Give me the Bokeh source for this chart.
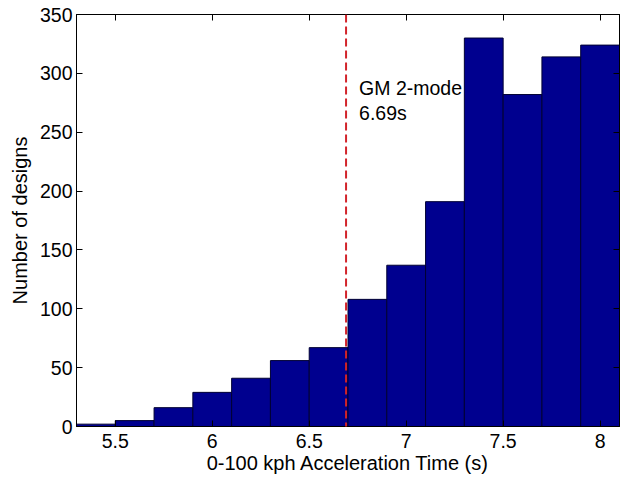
from bokeh.plotting import figure
from bokeh.models import FixedTicker, LinearAxis, Label, Arrow, Range1d
from bokeh.embed import file_html
from bokeh.resources import INLINE

# ---- data ----
bin_edges = [5.3, 5.5, 5.7, 5.9, 6.1, 6.3, 6.5, 6.7, 6.9, 7.1, 7.3, 7.5, 7.7, 7.9, 8.1]
counts = [2, 5, 16, 29, 41, 56, 67, 108, 137, 191, 330, 282, 314, 324]
x_ticks = [5.5, 6.0, 6.5, 7.0, 7.5, 8.0]
x_tick_labels = ["5.5", "6", "6.5", "7", "7.5", "8"]
y_ticks = [0, 50, 100, 150, 200, 250, 300, 350]
gm_time = 6.69
gm_label = "GM 2-mode\n6.69s"
label_y = 297
line_top = 350
line_bottom = -14

FONT = "Liberation Sans"
FS = "19.5px"
FS_AX = "20px"

p = figure(width=625, height=478, output_backend="svg", toolbar_location=None,
           x_range=Range1d(5.3, 8.1), y_range=Range1d(0, 350),
           min_border_left=76, min_border_right=6, min_border_top=14, min_border_bottom=52)
p.background_fill_color = "white"
p.border_fill_color = "white"
p.outline_line_color = "black"
p.outline_line_width = 1
p.xgrid.visible = False
p.ygrid.visible = False

p.quad(left=bin_edges[:-1], right=bin_edges[1:], top=counts, bottom=0,
       fill_color="#00008F", line_color="#000033", line_width=1)

arrow = Arrow(x_start=gm_time, y_start=line_top, x_end=gm_time, y_end=line_bottom,
              end=None, line_color="#D2232A", line_width=2, line_dash="8 4")
p.add_layout(arrow)

lab = Label(x=gm_time, y=label_y, x_offset=13, text=gm_label, text_font=FONT,
            text_font_size="19.5px", text_color="black", text_baseline="top",
            text_align="left", text_line_height=1.13)
p.add_layout(lab)

xa = p.xaxis[0]
xa.ticker = FixedTicker(ticks=x_ticks)
xa.major_label_overrides = {t: l for t, l in zip(x_ticks, x_tick_labels)}
ya = p.yaxis[0]
ya.ticker = FixedTicker(ticks=y_ticks)

for ax in (xa, ya):
    ax.axis_line_color = "black"
    ax.major_tick_line_color = "black"
    ax.major_tick_in = 6
    ax.major_tick_out = 0
    ax.minor_tick_line_color = None
    ax.major_label_text_font = FONT
    ax.major_label_text_font_size = FS
    ax.major_label_text_color = "black"
    ax.axis_label_text_font = FONT
    ax.axis_label_text_font_size = FS_AX
    ax.axis_label_text_font_style = "normal"
    ax.axis_label_text_color = "black"

xa.axis_label = "0-100 kph Acceleration Time (s)"
xa.major_label_standoff = 7
xa.axis_label_standoff = 1
ya.axis_label = "Number of designs"
ya.major_label_standoff = 4
ya.axis_label_standoff = 6

top_ax = LinearAxis(ticker=FixedTicker(ticks=x_ticks))
right_ax = LinearAxis(ticker=FixedTicker(ticks=y_ticks))
for ax in (top_ax, right_ax):
    ax.major_label_text_font_size = "1px"
    ax.major_label_text_color = None
    ax.major_label_standoff = 0
    ax.major_tick_in = 6
    ax.major_tick_out = 0
    ax.minor_tick_line_color = None
    ax.axis_line_color = "black"
    ax.major_tick_line_color = "black"
p.add_layout(top_ax, "above")
p.add_layout(right_ax, "right")

open("out.html", "w").write(file_html(p, INLINE))
